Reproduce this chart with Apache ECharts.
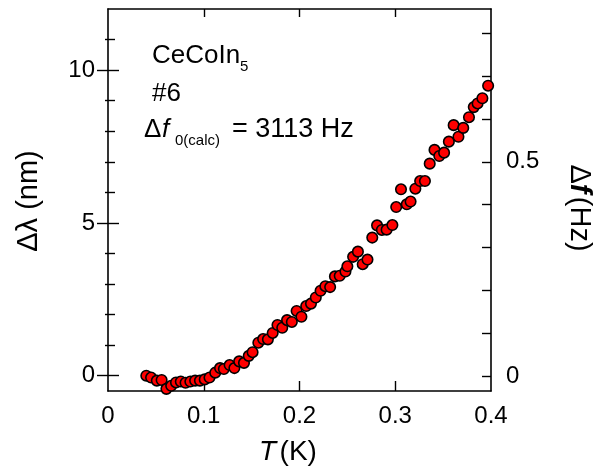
<!DOCTYPE html>
<html>
<head>
<meta charset="utf-8">
<script src="https://cdn.jsdelivr.net/npm/echarts@6/dist/echarts.min.js"></script>
<style>
  html, body { margin: 0; padding: 0; background: #fff; }
  #chart { width: 594px; height: 470px; }
</style>
</head>
<body>
<div id="chart"></div>
<script>
const temperature = [0.040, 0.045, 0.051, 0.056, 0.061, 0.066, 0.071, 0.076, 0.081, 0.086,
  0.091, 0.096, 0.101, 0.106, 0.112, 0.117, 0.121, 0.127, 0.132, 0.137,
  0.142, 0.147, 0.151, 0.157, 0.162, 0.167, 0.172, 0.177, 0.182, 0.187,
  0.192, 0.197, 0.202, 0.207, 0.212, 0.217, 0.222, 0.227, 0.232, 0.237,
  0.242, 0.248, 0.250, 0.256, 0.261, 0.266, 0.271, 0.276, 0.281, 0.286,
  0.291, 0.297, 0.301, 0.306, 0.312, 0.316, 0.321, 0.326, 0.331, 0.336,
  0.341, 0.346, 0.351, 0.356, 0.361, 0.366, 0.371, 0.377, 0.382, 0.386,
  0.391, 0.397];
const deltaLambda = [0, -0.06, -0.16, -0.14, -0.43, -0.33, -0.22, -0.19, -0.23, -0.19,
  -0.16, -0.16, -0.12, -0.06, 0.10, 0.25, 0.22, 0.35, 0.25, 0.47,
  0.42, 0.65, 0.77, 1.08, 1.20, 1.19, 1.40, 1.66, 1.57, 1.82,
  1.76, 2.12, 1.93, 2.28, 2.36, 2.56, 2.78, 2.93, 2.90, 3.25,
  3.27, 3.41, 3.58, 3.89, 4.06, 3.65, 3.80, 4.52, 4.92, 4.77,
  4.78, 4.93, 5.52, 6.10, 5.61, 5.70, 6.12, 6.37, 6.37, 6.94,
  7.39, 7.19, 7.30, 7.66, 8.20, 7.82, 8.11, 8.46, 8.79, 8.91,
  9.08, 9.49];

const xLabels = [0, 0.1, 0.2, 0.3, 0.4];
const xTicks = [0.1, 0.2, 0.3];
const leftLabels = [0, 5, 10];
const leftMinor = [1, 2, 3, 4, 6, 7, 8, 9, 11];
const rightTicks = [0, 0.1, 0.2, 0.3, 0.4, 0.5, 0.6, 0.7, 0.8];
const rightLabels = [0, 0.5];

const FONT = 'Arial, "Liberation Sans", sans-serif';
const chart = echarts.init(document.getElementById('chart'));

const axisLine = { show: true, onZero: false, lineStyle: { color: '#000', width: 1.6 } };
const tickLine = { color: '#000', width: 1.4 };
const labelStyle = { color: '#000', fontSize: 24, fontFamily: FONT };

// left side is built from stacked axes: crossing major ticks + inner minor ticks
const leftAxis = (ticks, len, inside, showLine, labels) => ({
  type: 'value', position: 'left', offset: 0, min: -0.5, max: 12,
  axisLine: showLine ? axisLine : { show: false, onZero: false },
  axisTick: { show: true, inside: inside, length: len, customValues: ticks, lineStyle: tickLine },
  axisLabel: labels ? { ...labelStyle, margin: 13, customValues: labels } : { show: false },
  splitLine: { show: false }
});

const txt = (x, y, text, font) => ({
  type: 'text', z: 10,
  style: { x: x, y: y, text: text, font: font, fill: '#000', verticalAlign: 'middle' }
});

const option = {
  animation: false,
  grid: { left: 108, right: 103, top: 9, bottom: 79 },
  xAxis: [
    {
      type: 'value', position: 'bottom', min: 0, max: 0.4,
      axisLine: axisLine,
      axisTick: { show: true, inside: true, length: 10, customValues: xTicks, lineStyle: tickLine },
      axisLabel: { ...labelStyle, margin: 13, customValues: xLabels },
      splitLine: { show: false }
    },
    {
      type: 'value', position: 'top', min: 0, max: 0.4,
      axisLine: axisLine,
      axisTick: { show: true, inside: true, length: 8, customValues: xTicks, lineStyle: tickLine },
      axisLabel: { show: false },
      splitLine: { show: false }
    }
  ],
  yAxis: [
    leftAxis(leftLabels, 11, true, true, leftLabels),
    leftAxis(leftLabels, 11, false, false, null),
    leftAxis(leftMinor, 7, true, false, null),
    leftAxis(leftMinor, 3, false, false, null),
    {
      type: 'value', position: 'right', min: -0.0343, max: 0.8563,
      axisLine: axisLine,
      axisTick: { show: true, inside: true, length: 9, customValues: rightTicks, lineStyle: tickLine },
      axisLabel: { ...labelStyle, margin: 15, customValues: rightLabels },
      splitLine: { show: false }
    }
  ],
  series: [
    {
      type: 'scatter',
      xAxisIndex: 0,
      yAxisIndex: 0,
      symbol: 'circle',
      symbolSize: 10.5,
      clip: false,
      itemStyle: { color: '#ff0000', borderColor: '#000', borderWidth: 1.6, opacity: 1 },
      data: temperature.map((t, i) => [t, deltaLambda[i]])
    }
  ],
  graphic: [
    // annotations
    txt(152, 55.5, 'CeCoIn', '26px ' + FONT),
    txt(240, 67, '5', '15px ' + FONT),
    txt(152, 94, '#6', '26px ' + FONT),
    txt(144, 129.5, 'Δ', '26px ' + FONT),
    txt(162, 129.5, 'f', 'italic 26px ' + FONT),
    txt(175, 141, '0(calc)', '15px ' + FONT),
    txt(232, 129.5, '= 3113 Hz', '27px ' + FONT),
    // axis titles
    {
      type: 'text', x: 29, y: 201, rotation: Math.PI / 2,
      style: { text: 'Δλ (nm)', font: '29px ' + FONT, fill: '#000', align: 'center', verticalAlign: 'middle' }
    },
    {
      type: 'text', x: 579, y: 208, rotation: -Math.PI / 2,
      style: {
        text: '{a|Δ}{b|f} {a|(Hz)}', align: 'center', verticalAlign: 'middle',
        rich: {
          a: { font: '29px ' + FONT, fill: '#000' },
          b: { font: 'italic bold 29px ' + FONT, fill: '#000' }
        }
      }
    },
    {
      type: 'text', x: 288, y: 452,
      style: {
        text: '{b|T} {a|(K)}', align: 'center', verticalAlign: 'middle',
        rich: {
          a: { font: '28px ' + FONT, fill: '#000' },
          b: { font: 'italic 28px ' + FONT, fill: '#000' }
        }
      }
    }
  ]
};

chart.setOption(option);
</script>
</body>
</html>
